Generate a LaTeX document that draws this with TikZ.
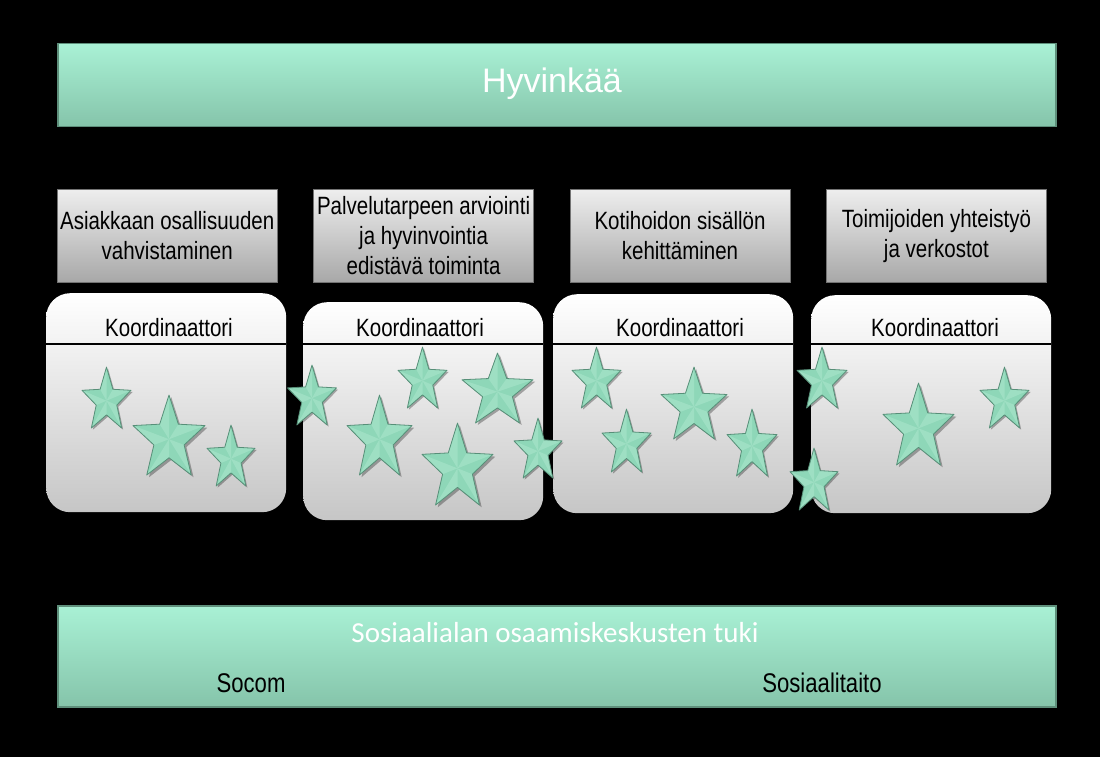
\documentclass[tikz,border=0pt]{standalone}
\usepackage{fontspec}
\setmainfont{Liberation Sans}
\newfontfamily\narrowfont[FakeStretch=0.82]{Liberation Sans}
\newfontfamily\calibrifont{Carlito}
\usepackage{xcolor}
\usetikzlibrary{positioning}

\definecolor{bannertop}{HTML}{A9F1D5}
\definecolor{bannerbot}{HTML}{85C4AA}
\definecolor{bannerdark}{HTML}{5E8F7B}
\definecolor{themetop}{HTML}{EEEEEE}
\definecolor{themebot}{HTML}{A8A8A8}
\definecolor{panelbot}{HTML}{C6C6C6}
\definecolor{starbody}{HTML}{8ED7B8}
\definecolor{starlight}{HTML}{C4F2DE}
\definecolor{staredge}{HTML}{578F78}

\tikzset{
    banner/.style={draw=bannerdark, line width=1.5pt, top color=bannertop, bottom color=bannerbot,
        minimum width=998pt, anchor=north west, inner sep=0pt},
    theme/.style={draw=black!55, top color=themetop, bottom color=themebot, minimum width=220pt,
        minimum height=93pt, align=center, inner sep=0pt, font=\narrowfont\fontsize{25}{30}\selectfont},
    panel/.style={rounded corners=24pt, top color=white, middle color=white!95!black, bottom color=panelbot,
        minimum width=240pt, anchor=north west, inner sep=0pt},
    coord/.style={anchor=base, font=\narrowfont\fontsize{25}{30}\selectfont},
    sepline/.style={black, line width=1.3pt},
    kstar/.pic={
        \fill[black, opacity=.3, shift={(0.06,0.05)}] (-90:1) -- (-54:.42) -- (-18:1) -- (18:.42) -- (54:1)
            -- (90:.42) -- (126:1) -- (162:.42) -- (198:1) -- (234:.42) -- cycle;
        \fill[starbody] (-90:1) -- (-54:.42) -- (-18:1) -- (18:.42) -- (54:1)
            -- (90:.42) -- (126:1) -- (162:.42) -- (198:1) -- (234:.42) -- cycle;
        \foreach \a in {-90,-18,54,126,198}
            \fill[starlight, opacity=.3] (0,0) -- (\a:1) -- ({\a-36}:.42) -- cycle;
        \draw[staredge, line width=.8pt, line join=round] (-90:1) -- (-54:.42) -- (-18:1) -- (18:.42) -- (54:1)
            -- (90:.42) -- (126:1) -- (162:.42) -- (198:1) -- (234:.42) -- cycle;
    }
}

\begin{document}
\begin{tikzpicture}[x=1pt, y=-1pt]
    \useasboundingbox (0,0) rectangle (1100,757);
    \fill[black] (0,0) rectangle (1100,757);

    % Top banner
    \node[banner, minimum height=83pt] (kunta) at (57,43) {};
    \node[anchor=base, white, font=\fontsize{34}{40}\selectfont] (kuntanimi) at (552,93) {Hyvinkää};

    % Theme boxes
    \node[theme, anchor=north west] (teema1) at (57,189) {Asiakkaan osallisuuden\\vahvistaminen};
    \node[theme, right=36pt of teema1] (teema2) {Palvelutarpeen arviointi\\ja hyvinvointia\\edistävä toiminta};
    \node[theme, right=36pt of teema2] (teema3) {Kotihoidon sisällön\\kehittäminen};
    \node[theme, right=36pt of teema3] (teema4) {Toimijoiden yhteistyö\\ja verkostot};

    % Coordinator panels
    \node[panel, minimum height=219pt] (paneeli1) at (46,293) {};
    \node[panel, minimum height=218pt] (paneeli2) at (303,302) {};
    \node[panel, minimum height=219pt] (paneeli3) at (553,294) {};
    \node[panel, minimum height=218pt] (paneeli4) at (811,295) {};
    \coordinate (erotin) at (0,344);
    \foreach \p/\cx in {1/169, 2/420, 3/680, 4/935} {
        \node[coord] (koord\p) at (\cx,336) {Koordinaattori};
        \draw[sepline] (paneeli\p.west |- erotin) -- (paneeli\p.east |- erotin);
    }

    % Stars: centre x, top y, width, height
    \foreach \cx/\ty/\w/\h in {106.5/367/49/61, 169/395/72/80, 231/425/48/61,
        312/365/49/60, 379.5/395/65/80, 422.5/347/49/61, 497.5/353/71/70, 457.5/423/71/82, 538/418/48/60,
        596.5/347/49/61, 626.5/409/49/63, 694/367/66/72, 752/409/50/67, 822/347/50/61, 814/448/48/62,
        918.5/383/71/82, 1004.5/367/49/61}
        \pic[xscale=\w/1.902, yscale=\h/1.809] at (\cx,\ty+\h/1.809) {kstar};

    % Bottom banner
    \node[banner, minimum height=101pt] (tuki) at (57,605) {};
    \node[anchor=base, white, font=\calibrifont\fontsize{29}{34}\selectfont] (tukiotsikko) at (555,642) {Sosiaalialan osaamiskeskusten tuki};
    \node[anchor=base, font=\narrowfont\fontsize{27}{32}\selectfont] (socom) at (251,692) {Socom};
    \node[anchor=base, font=\narrowfont\fontsize{27}{32}\selectfont] (sosiaalitaito) at (822,692) {Sosiaalitaito};
\end{tikzpicture}
\end{document}
